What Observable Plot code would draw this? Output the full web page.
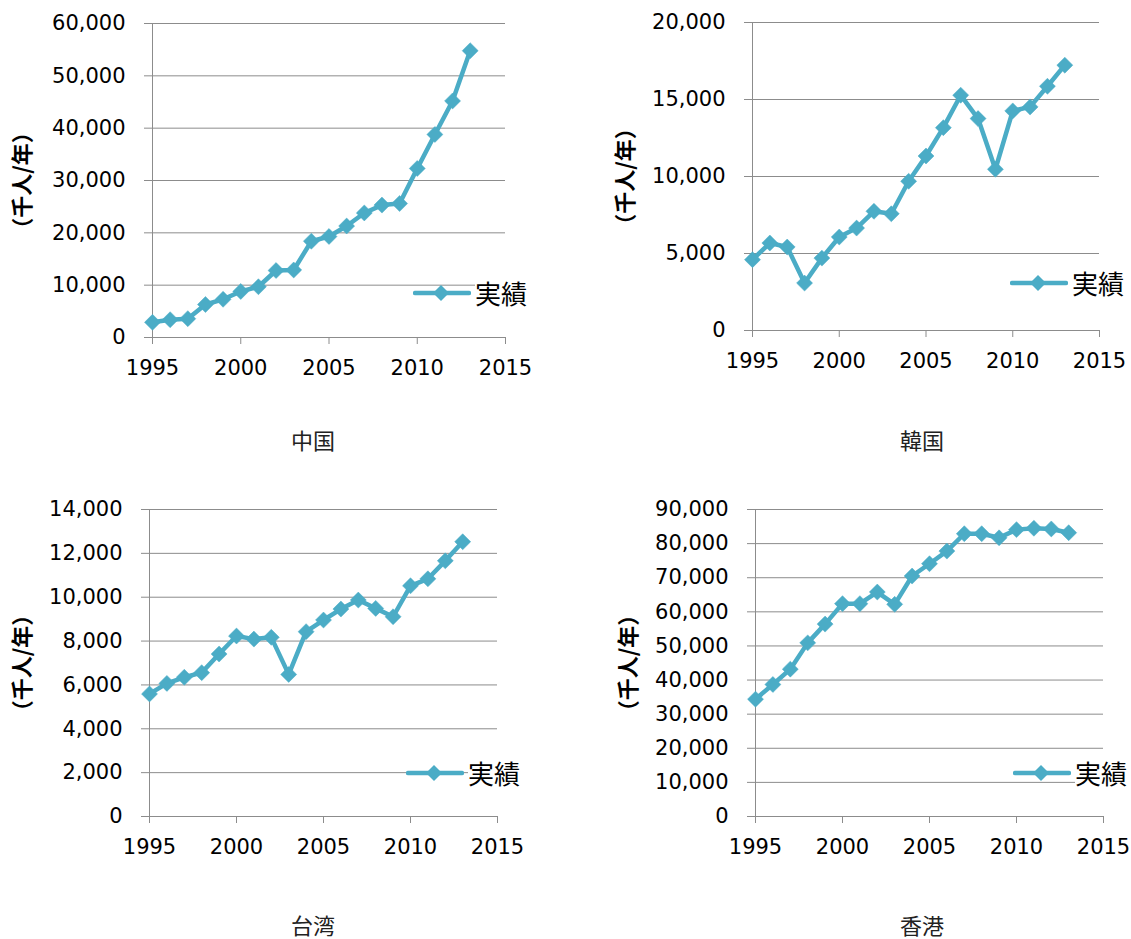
<!DOCTYPE html>
<html>
<head>
<meta charset="utf-8">
<script src="https://cdn.jsdelivr.net/npm/d3@7"></script>
<script src="https://cdn.jsdelivr.net/npm/@observablehq/plot@0.6"></script>
<style>
  html, body { margin: 0; background: #fff; }
  #wrap { position: relative; width: 1131px; height: 939px; overflow: hidden; background: #fff; }
  .panel { position: absolute; }
  .cap { position: absolute; font-family: "Noto Sans CJK JP"; font-size: 22px; color: #222; transform: translate(-50%, -50%); white-space: nowrap; line-height: 22px; height: 22px; }
  .leg { position: absolute; display: flex; align-items: center; transform: translateY(-50%); }
  .leg span { font-family: "Noto Sans CJK JP"; font-size: 26px; color: #000; background: #fff; line-height: 1; margin-left: 4px; padding-right: 2px; }
</style>
</head>
<body>
<div id="wrap"></div>
<script>
// ---- data ----
const years = [1995, 1996, 1997, 1998, 1999, 2000, 2001, 2002, 2003, 2004, 2005, 2006, 2007, 2008, 2009, 2010, 2011, 2012, 2013];
const china   = [2900, 3400, 3600, 6300, 7300, 8800, 9700, 12800, 12900, 18400, 19300, 21300, 23800, 25300, 25600, 32300, 38800, 45200, 54800];
const korea   = [4600, 5680, 5420, 3080, 4700, 6070, 6650, 7740, 7580, 9690, 11330, 13170, 15280, 13760, 10470, 14260, 14520, 15860, 17230];
const taiwan  = [5590, 6070, 6350, 6560, 7410, 8230, 8090, 8170, 6480, 8430, 8960, 9460, 9870, 9490, 9110, 10520, 10840, 11660, 12530];
const hongkong = [34400, 38700, 43200, 50900, 56400, 62400, 62400, 65800, 62200, 70500, 74100, 77800, 82900, 82900, 81700, 84100, 84500, 84300, 83200];

const xTicks = [1995, 2000, 2005, 2010, 2015];
const chinaTicks = [0, 10000, 20000, 30000, 40000, 50000, 60000];
const koreaTicks = [0, 5000, 10000, 15000, 20000];
const taiwanTicks = [0, 2000, 4000, 6000, 8000, 10000, 12000, 14000];
const hongkongTicks = [0, 10000, 20000, 30000, 40000, 50000, 60000, 70000, 80000, 90000];

const yTitle = "（千人/年）";
const legendLabel = "実績";
const captions = ["中国", "韓国", "台湾", "香港"];

// ---- styles ----
const LINE = "#4BACC6";
const GRAY = "#8c8c8c";

const panels = [
  {values: china, ticks: chinaTicks, cap: captions[0],
   left: 0, top: 0, width: 560, height: 400, ml: 152, mr: 55, mt: 23, mb: 63, tdx: -130,
   capX: 313, capY: 439, legX: 413, legY: 293},
  {values: korea, ticks: koreaTicks, cap: captions[1],
   left: 560, top: 0, width: 571, height: 400, ml: 192, mr: 32, mt: 22, mb: 70, tdx: -127,
   capX: 922, capY: 439, legX: 1010, legY: 283},
  {values: taiwan, ticks: taiwanTicks, cap: captions[2],
   left: 0, top: 470, width: 560, height: 400, ml: 149, mr: 63, mt: 39, mb: 54, tdx: -127,
   capX: 313, capY: 924, legX: 406, legY: 773},
  {values: hongkong, ticks: hongkongTicks, cap: captions[3],
   left: 560, top: 470, width: 571, height: 400, ml: 195, mr: 28, mt: 39, mb: 54, tdx: -127,
   capX: 922, capY: 924, legX: 1013, legY: 773}
];

const wrap = document.getElementById("wrap");

for (const p of panels) {
  const data = years.map((y, i) => ({year: y, value: p.values[i]}));
  const ymax = p.ticks[p.ticks.length - 1];
  const chart = Plot.plot({
    width: p.width,
    height: p.height,
    marginLeft: p.ml,
    marginRight: p.mr,
    marginTop: p.mt,
    marginBottom: p.mb,
    style: {fontFamily: "DejaVu Sans", fontSize: "21px", color: "#000", background: "transparent", overflow: "visible"},
    x: {domain: [1995, 2015]},
    y: {domain: [0, ymax]},
    marks: [
      Plot.gridY(p.ticks, {stroke: GRAY, strokeOpacity: 1, strokeWidth: 1}),
      Plot.ruleX([1995], {stroke: GRAY, strokeWidth: 1}),
      Plot.axisY({ticks: p.ticks, tickSize: 8, tickPadding: 19, stroke: GRAY, fill: "#000",
        tickFormat: d3.format(","), label: null, fontSize: 21}),
      Plot.axisX({ticks: xTicks, tickSize: 7, tickPadding: 16, stroke: GRAY, fill: "#000",
        tickFormat: d => String(d), label: null, fontSize: 21}),
      Plot.line(data, {x: "year", y: "value", stroke: LINE, strokeWidth: 4.5, strokeLinejoin: "round", strokeLinecap: "round"}),
      Plot.dot(data, {x: "year", y: "value", symbol: "diamond2", r: 7.2, fill: LINE, stroke: LINE, strokeWidth: 0.5}),
      Plot.text([yTitle], {text: d => d, frameAnchor: "left", textAnchor: "middle", dx: p.tdx, rotate: -90,
        fontFamily: "Noto Sans CJK JP", fontWeight: "bold", fontSize: 22, fill: "#000"})
    ]
  });
  chart.classList.add("panel");
  chart.style.left = p.left + "px";
  chart.style.top = p.top + "px";
  wrap.appendChild(chart);

  // legend
  const leg = document.createElement("div");
  leg.className = "leg";
  leg.style.left = p.legX + "px";
  leg.style.top = p.legY + "px";
  const ns = "http://www.w3.org/2000/svg";
  const sw = document.createElementNS(ns, "svg");
  sw.setAttribute("width", 58);
  sw.setAttribute("height", 22);
  const ln = document.createElementNS(ns, "line");
  ln.setAttribute("x1", 2); ln.setAttribute("x2", 56);
  ln.setAttribute("y1", 11); ln.setAttribute("y2", 11);
  ln.setAttribute("stroke", LINE); ln.setAttribute("stroke-width", 4.5);
  ln.setAttribute("stroke-linecap", "round");
  sw.appendChild(ln);
  const dm = document.createElementNS(ns, "path");
  dm.setAttribute("d", "M28,3 L36,11 L28,19 L20,11 Z");
  dm.setAttribute("fill", LINE);
  sw.appendChild(dm);
  leg.appendChild(sw);
  const sp = document.createElement("span");
  sp.textContent = legendLabel;
  leg.appendChild(sp);
  wrap.appendChild(leg);

  // caption
  const cap = document.createElement("div");
  cap.className = "cap";
  cap.style.left = p.capX + "px";
  cap.style.top = p.capY + "px";
  cap.textContent = p.cap;
  wrap.appendChild(cap);
}
</script>
</body>
</html>
